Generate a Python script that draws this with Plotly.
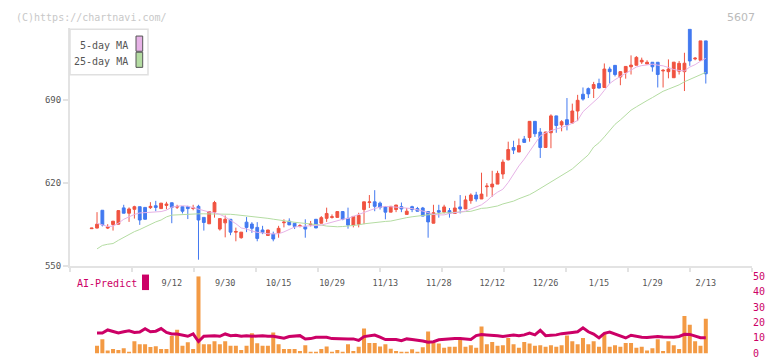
import plotly.graph_objects as go

W, H = 772, 361

# ---- data ----
open_ = [581.5, 582, 597, 582, 585, 585.3, 599, 594.5, 597.8, 600,
         599.4, 599.2, 600.8, 598.4, 601.1, 603.3, 599.6, 600, 600, 598.5,
         600.3, 591, 585.6, 595.4, 581.2, 586.4, 589.4, 578.6, 573.9, 587,
         585.4, 582.6, 580.4, 575.8, 576.9, 578, 586.5, 587.8, 586.1, 583.5,
         583.1, 584.7, 589.4, 586.1, 590.2, 591, 591, 595.9, 590.2, 584.5,
         585.3, 597.6, 603.5, 604.1, 603, 600, 595.4, 597.6, 600, 593.5,
         600, 598.4, 598.9, 595.9, 586.1, 596.7, 595.4, 596.7, 594.3, 599.8,
         598.1, 605.1, 609.8, 606.5, 616.8, 616.6, 619, 627.5, 639.4, 649.8,
         646, 656.9, 658.2, 671.8, 662.8, 649.8, 662.2, 676.4, 668.8, 673.2,
         670.4, 680.5, 694.6, 699.3, 699.5, 703.6, 700.3, 715.8, 718.9, 709.1,
         712.8, 717.7, 719, 721.8, 720, 721.5, 721.5, 714.2, 713.6, 708.5,
         714, 713.6, 749.3, 724.3, 723.2, 739.5]
high = [582, 595.4, 597, 585.3, 588, 597, 601.6, 599.4, 600.8, 600,
        599.4, 603.8, 604.9, 603, 604.1, 603.5, 601.6, 600, 600.8, 601.6,
        601.6, 591, 596, 604.9, 590, 592.6, 589.5, 582.4, 578.6, 591.3,
        587, 587, 583.9, 580.5, 579, 583.9, 589.4, 590.2, 586.1, 585.3,
        589.4, 588, 589.4, 592.1, 599.2, 593.5, 596, 596, 599.2, 592,
        594.9, 604.1, 609.8, 613.9, 604.3, 600, 600.5, 601.5, 603.5, 598.9,
        600.8, 599.8, 599.8, 596, 601.6, 601.6, 601.6, 598.9, 604.9, 609.8,
        609.2, 611.2, 612.5, 628.6, 619.8, 630.2, 630.2, 639.7, 654.7, 655.5,
        657.3, 659.5, 672, 672, 666.1, 663, 677.7, 676.5, 672.8, 691.4,
        686.7, 694.1, 700.3, 700.3, 705, 707.7, 720.5, 717.7, 719, 714,
        718.2, 727.3, 726.7, 725.4, 723.2, 721.6, 721.6, 715.8, 723.9, 721.6,
        722.6, 729.5, 749.3, 725.9, 739.5, 739.5]
low = [581.5, 581.8, 583.4, 581.2, 579.9, 585, 594.5, 587.2, 590, 584.7,
       589.4, 598.1, 596.2, 598.4, 597.8, 586.1, 598.1, 594.3, 589.6, 597,
       555.4, 579.9, 585.5, 590.8, 579.9, 574.2, 576, 570.9, 573.1, 578.6,
       578, 570.9, 576.9, 575.8, 570.9, 573.9, 582.6, 584.5, 581.2, 582.6,
       573.9, 583.4, 582, 586, 587.2, 590, 591, 588.6, 581.5, 582.6,
       582.6, 585.3, 598.9, 596.2, 597.6, 589.4, 595.4, 595.4, 595.4, 593.5,
       595.4, 596, 592, 573.9, 586, 590.8, 594.3, 590.8, 594.3, 594.3,
       598, 602.5, 604.3, 606.5, 608.4, 608.4, 619, 623.4, 639, 644.3,
       646, 654, 654.7, 658.7, 641, 649.8, 649.2, 662.2, 663.4, 664.2,
       670, 672, 689.2, 691.4, 691.4, 699.5, 700, 703.6, 709.6, 702.2,
       707.7, 711.2, 719, 720.1, 720, 713.6, 700.3, 700.3, 708, 708.5,
       711.2, 697.3, 718.5, 723.2, 723, 703.6]
close = [582, 585.3, 584.7, 582.9, 587.8, 596.7, 594.5, 598.1, 600, 588.8,
         589.4, 600.3, 599.4, 603, 602.2, 599.4, 600.2, 596.2, 598.4, 599,
         588.8, 586.7, 595.9, 603.5, 590, 589.4, 578.6, 579.1, 578.6, 582.6,
         581.8, 573.3, 578.2, 580.4, 572.8, 581.8, 587, 584.7, 583.4, 584,
         581.2, 585.3, 582.1, 590.8, 594.3, 591.5, 595.9, 589.4, 584.5, 591.8,
         592.7, 604.1, 604, 600.3, 599.4, 595.4, 600.3, 601.4, 598.1, 596.2,
         597.6, 596.2, 592.1, 587.2, 594.9, 595.4, 599.8, 594.3, 598.9, 598.1,
         605.7, 609.8, 606.5, 610.6, 617.3, 619, 628, 637.5, 648.1, 647.6,
         651.4, 654.1, 671.8, 661.4, 649.8, 662.8, 676.4, 668.3, 671.5, 668.8,
         680.5, 689.5, 690.5, 694.9, 702.8, 699.8, 715.8, 713.6, 711.2, 713.6,
         718, 719.1, 725.6, 723.2, 721.5, 717.7, 711.2, 714.7, 715.8, 721.6,
         720.6, 720.7, 722.6, 724.9, 739.5, 711.8]
ma5 = [None,
       586.1, 584.5, 583.3, 583.7, 586.1, 589.4, 591.8, 593.5, 594.7, 594.9,
       595.1, 595.4, 595.9, 597.1, 599.6, 600.4, 600.8, 600.4, 599.2, 598.0,
       596.3, 595.5, 594.9, 593.5, 591.4, 588.6, 585.7, 582.1, 581.2, 579.6,
       578.4, 578.0, 577.2, 577.2, 577.2, 578.8, 581.2, 582.9, 583.4, 583.7,
       583.7, 584.1, 584.5, 585.7, 587.0, 588.2, 589.4, 590.2, 591.8, 593.9,
       595.5, 596.7, 598.4, 599.6, 600.2, 600.0, 599.8, 599.2, 598.8, 598.4,
       597.6, 596.3, 595.1, 593.5, 593.1, 593.1, 594.3, 594.7, 595.5, 596.3,
       598.0, 599.6, 601.6, 604.9, 609.0, 612.2, 614.7, 620.4, 627.5, 634.3,
       640.0, 646.5, 653.0, 659.5, 662.0, 664.0, 665.3, 666.5, 668.1, 670.2,
       672.6, 679.9, 684.0, 688.9, 692.2, 697.9, 703.6, 706.9, 709.7, 712.2,
       715.0, 717.5, 718.7, 719.5, 719.9, 719.1, 718.5, 717.1, 715.4, 714.6,
       714.2, 717.5, 719.5, 722.4, 724.8]
ma25 = [None,
        564.5, 567.4, 568.4, 569.0, 571.7, 574.3, 576.8, 579.0, 580.8, 583.1,
        585.1, 587.2, 588.8, 591.4, 592.9, 593.2, 593.7, 594.0, 594.0, 594.0,
        594.0, 594.0, 594.0, 594.0, 593.9, 593.6, 593.2, 592.8, 592.4, 592.0,
        591.6, 591.0, 590.2, 589.5, 588.7, 588.0, 587.4, 586.9, 586.4, 586.0,
        585.6, 585.5, 584.5, 583.7, 583.3, 583.1, 583.3, 583.7, 584.2, 584.7,
        585.6, 586.2, 587.0, 587.4, 587.6, 587.9, 589.0, 590.1, 590.8, 591.5,
        592.2, 592.7, 593.2, 593.6, 594.3, 594.9, 594.9, 595.4, 595.8, 595.9,
        596.1, 597.6, 598.6, 598.9, 599.8, 600.6, 602.3, 603.3, 604.7, 606.7,
        608.3, 610.1, 612.6, 615.3, 617.9, 620.2, 623.2, 626.1, 629.0, 631.8,
        635.5, 639.6, 643.6, 650.2, 653.8, 658.7, 664.0, 669.3, 673.0, 677.5,
        681.2, 684.0, 686.9, 689.3, 691.8, 694.5, 697.1, 698.9, 700.7, 702.5,
        705.1, 707.0, 708.7, 711.1, 713.0]
volume = [None,
          4.9, 9.1, 1.8, 2.8, 2.2, 3.3, 1.1, 7.9, 6.0, 6.0,
          4.1, 4.7, 2.8, 2.8, 11.2, 15.4, 4.9, 7.2, 2.8, 50,
          6.0, 6.0, 7.9, 6.0, 7.9, 4.9, 4.9, 2.2, 4.9, 13.1,
          6.6, 4.9, 4.9, 13.5, 6.0, 2.8, 2.8, 2.8, 1.6, 5.3,
          1.1, 1.1, 2.8, 4.5, 1.1, 2.2, 1.1, 6.0, 1.6, 4.3,
          16.2, 6.8, 6.8, 4.5, 6.0, 3.0, 1.6, 1.1, 1.1, 2.6,
          1.1, 3.9, 14.2, 7.0, 6.4, 3.6, 4.3, 4.3, 9.1, 4.3,
          5.3, 3.6, 17.5, 6.0, 7.4, 4.9, 5.3, 9.9, 6.0, 3.6,
          7.4, 6.4, 4.9, 5.3, 4.3, 5.3, 4.3, 5.3, 11.6, 7.9,
          6.0, 9.9, 6.0, 7.9, 4.3, 12.5, 4.3, 5.3, 4.3, 6.8,
          6.8, 3.6, 4.3, 1.8, 3.3, 9.1, 1.6, 7.9, 5.3, 2.8,
          24.2, 18.6, 7.9, 4.9, 22.5]
ai_predict = [None,
              13.2, 13.2, 15.2, 14.3, 13.2, 14.0, 14.6, 13.6, 13.8, 16.0,
              14.0, 14.4, 16.1, 13.6, 12.6, 12.6, 12.0, 11.1, 12.6, 7.7,
              11.1, 11.5, 11.5, 11.1, 12.6, 11.5, 11.8, 11.1, 11.5, 11.1,
              11.5, 11.5, 11.1, 11.1, 10.5, 9.8, 10.9, 11.1, 11.5, 9.3,
              9.6, 10.5, 10.5, 10.5, 9.6, 9.4, 9.4, 9.4, 9.4, 8.4,
              10.9, 11.3, 11.9, 10.5, 9.0, 9.0, 9.0, 8.2, 9.4, 9.0,
              8.6, 8.0, 7.3, 7.6, 8.8, 9.2, 9.4, 9.6, 9.6, 9.4,
              9.0, 11.5, 12.2, 12.0, 11.9, 11.5, 10.9, 11.4, 11.9, 11.5,
              12.0, 13.2, 12.0, 15.0, 11.5, 11.8, 12.0, 12.8, 13.4, 13.6,
              14.0, 16.6, 14.0, 12.5, 10.0, 13.0, 13.8, 12.5, 11.0, 10.0,
              11.8, 11.0, 10.5, 10.3, 10.6, 10.9, 10.6, 10.4, 10.5, 11.0,
              12.4, 12.3, 11.0, 10.2, 10.2]
tick_idx = [15, 25, 35, 45, 55, 65, 75, 85, 95, 105, 115]
tick_text = ["9/12", "9/30", "10/15", "10/29", "11/13", "11/28",
             "12/12", "12/26", "1/15", "1/29", "2/13"]
price_ticks = [550, 620, 690]
sub_ticks = [0, 10, 20, 30, 40, 50]

idx = list(range(len(close)))

# ---- styling ----
MONO = "DejaVu Sans Mono"
RED, BLUE = "#f05340", "#4279f0"
PINK, GREEN = "#e6b2e6", "#b4dca2"
CRIMSON, ORANGE = "#cc0066", "#f39a44"
AXIS = "#e3e3e3"

def px_x(p):
    return p / W

def px_y(p):
    return 1 - p / H

XR = [-4.06, 123.65]

fig = go.Figure()
fig.add_trace(go.Scatter(x=idx, y=ma25, mode="lines", line=dict(color=GREEN, width=1),
                         hoverinfo="skip"))
fig.add_trace(go.Scatter(x=idx, y=ma5, mode="lines", line=dict(color=PINK, width=1),
                         hoverinfo="skip"))
fig.add_trace(go.Candlestick(
    x=idx, open=open_, high=high, low=low, close=close,
    increasing=dict(line=dict(color=RED, width=1), fillcolor=RED),
    decreasing=dict(line=dict(color=BLUE, width=1), fillcolor=BLUE),
    whiskerwidth=0,
))
fig.add_trace(go.Bar(x=idx, y=volume, marker=dict(color=ORANGE, line=dict(width=0)),
                     xaxis="x2", yaxis="y2"))
fig.add_trace(go.Scatter(x=idx, y=ai_predict, mode="lines",
                         line=dict(color=CRIMSON, width=3), xaxis="x2", yaxis="y2"))

dom_x = [px_x(70), px_x(752)]

fig.update_layout(
    width=W, height=H,
    margin=dict(l=0, r=0, t=0, b=0),
    paper_bgcolor="white", plot_bgcolor="white",
    showlegend=False,
    boxgap=0.25,
    bargap=0.25,
    xaxis=dict(
        domain=dom_x, range=XR, anchor="y",
        showline=True, linecolor=AXIS, linewidth=2,
        showgrid=False, zeroline=False,
        tickmode="array", tickvals=tick_idx, ticktext=tick_text,
        ticks="outside", ticklen=8, tickcolor="rgba(0,0,0,0)",
        tickfont=dict(family=MONO, size=8.5, color="#555555"),
        minor=dict(tickmode="linear", tick0=-4.06, dtick=11.61,
                   ticks="outside", ticklen=4, tickcolor=AXIS, tickwidth=2,
                   showgrid=False),
        rangeslider=dict(visible=False),
    ),
    yaxis=dict(
        domain=[px_y(268.3), px_y(23.1)], range=[550, 750], anchor="x",
        showline=True, linecolor=AXIS, linewidth=2,
        showgrid=False, zeroline=False,
        tickmode="array", tickvals=price_ticks,
        ticks="outside", ticklen=5, tickcolor=AXIS, tickwidth=2,
        tickfont=dict(family=MONO, size=9, color="#555555"),
    ),
    xaxis2=dict(domain=dom_x, range=XR, anchor="y2", visible=False),
    yaxis2=dict(
        domain=[px_y(358.3), px_y(278.8)], range=[0, 50], anchor="x2", side="right",
        showline=False, showgrid=False, zeroline=False,
        tickmode="array", tickvals=sub_ticks, ticks="",
        tickfont=dict(family=MONO, size=10, color=CRIMSON),
    ),
    annotations=[
        dict(text="(C)https://chartnavi.com/", x=px_x(14), y=px_y(12), xref="paper", yref="paper",
             xanchor="left", yanchor="middle", showarrow=False,
             font=dict(family=MONO, size=10, color="#c8c8c8")),
        dict(text="5607", x=px_x(757), y=px_y(12), xref="paper", yref="paper",
             xanchor="right", yanchor="middle", showarrow=False,
             font=dict(family="DejaVu Sans", size=11, color="#bbbbbb")),
        dict(text="5-day MA", x=px_x(130), y=px_y(41), xref="paper", yref="paper",
             xanchor="right", yanchor="middle", showarrow=False,
             font=dict(family=MONO, size=10, color="#555555")),
        dict(text="25-day MA", x=px_x(130), y=px_y(57), xref="paper", yref="paper",
             xanchor="right", yanchor="middle", showarrow=False,
             font=dict(family=MONO, size=10, color="#555555")),
        dict(text="AI-Predict", x=px_x(75), y=px_y(286), xref="paper", yref="paper",
             xanchor="left", yanchor="middle", showarrow=False,
             font=dict(family=MONO, size=10, color=CRIMSON)),
    ],
    shapes=[
        dict(type="rect", xref="paper", yref="paper", layer="above",
             x0=px_x(70), x1=px_x(148), y0=px_y(71), y1=px_y(24),
             line=dict(color="#e0e0e0", width=1.5), fillcolor="white"),
        dict(type="rect", xref="paper", yref="paper", layer="above",
             x0=px_x(136), x1=px_x(142.7), y0=px_y(46.7), y1=px_y(31),
             line=dict(color="#555555", width=1), fillcolor=PINK),
        dict(type="rect", xref="paper", yref="paper", layer="above",
             x0=px_x(136), x1=px_x(142.7), y0=px_y(63.3), y1=px_y(47.7),
             line=dict(color="#555555", width=1), fillcolor=GREEN),
        dict(type="rect", xref="paper", yref="paper", layer="above",
             x0=px_x(142), x1=px_x(149), y0=px_y(293), y1=px_y(277),
             line=dict(width=0), fillcolor=CRIMSON),
    ],
)

fig.write_html("out.html",
               config={"displayModeBar": False, "staticPlot": True},
               post_script="document.body.style.margin='0';document.body.style.overflow='hidden';")
